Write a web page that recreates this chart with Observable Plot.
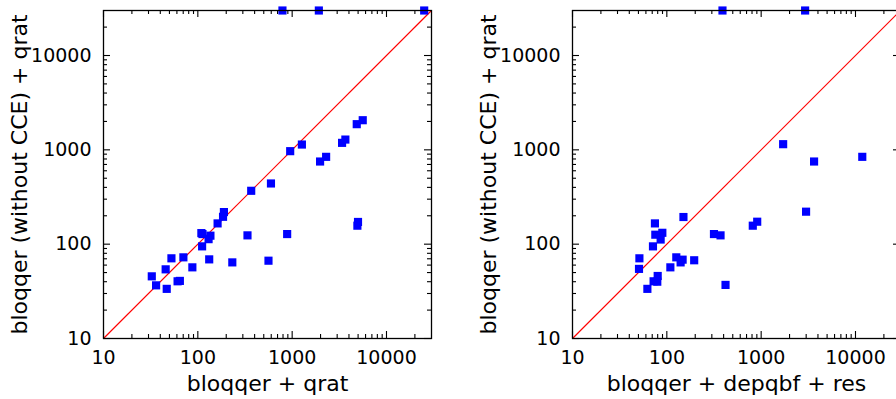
<!DOCTYPE html>
<html><head><meta charset="utf-8">
<script src="https://cdn.jsdelivr.net/npm/d3@7"></script>
<script src="https://cdn.jsdelivr.net/npm/@observablehq/plot@0.6"></script>
<style>
body{margin:0;overflow:hidden;background:#fff}
#wrap{position:relative;width:896px;height:399px;overflow:hidden;background:#fff}
.panel{position:absolute;top:0}
.panel svg{max-width:none}
</style></head><body>
<div id="wrap"><div class="panel" id="p1" style="left:0"></div><div class="panel" id="p2" style="left:469px"></div></div>
<script>
// Left panel: bloqqer + qrat (x) vs bloqqer (without CCE) + qrat (y)
const leftX = [789, 1918, 25100, 953, 1268, 1977, 2291, 3381, 3665, 4838, 5600, 368, 596,
  32.5, 36.1, 45.6, 46.8, 52.5, 61, 64.5, 70.3, 87.5, 109, 111, 130, 136, 132, 112, 162, 185, 189,
  232, 336, 561, 885, 4915, 4990];
const leftY = [30000, 30000, 30000, 968, 1138, 752, 843, 1186, 1285, 1871, 2061, 368, 440,
  45.6, 36.6, 54.1, 33.6, 70.8, 40.4, 40.8, 72.5, 56.8, 131, 94.8, 113, 123, 69, 128, 166, 195, 219,
  64.1, 124, 66.8, 128, 157, 172];
// Right panel: bloqqer + depqbf + res (x) vs bloqqer (without CCE) + qrat (y)
const rightX = [389, 2924, 1710, 3638, 11800, 2993, 815, 908, 316, 371, 419, 195, 150, 126, 147, 140,
  109, 74.8, 75.5, 89.6, 86, 71.3, 51.2, 50.7, 62.2, 72.4, 80, 79.2];
const rightY = [30000, 30000, 1148, 752, 843, 221, 157, 173, 128, 124, 37, 67.5, 194, 72.5, 68.5, 64.1,
  56.8, 166, 126, 132, 112, 94.8, 70.8, 54.7, 33.6, 40.4, 46, 40];

const majorTicks = [10, 100, 1000, 10000];
const minorTicks = [20, 30, 40, 50, 60, 70, 80, 90, 200, 300, 400, 500, 600, 700, 800, 900,
  2000, 3000, 4000, 5000, 6000, 7000, 8000, 9000, 20000];
const domain = [10, 30000];
const diagonal = [{x1: 10, y1: 10, x2: 30000, y2: 30000}];

const xLabels = ["bloqqer + qrat", "bloqqer + depqbf + res"];
const yLabel = "bloqqer (without CCE) + qrat";

const SIZE = 328; // frame side in px
function tickMarks(vals, len) {
  const c = {stroke: "#000", strokeWidth: 1.1};
  return [
    Plot.ruleX(vals, {x: d => d, insetTop: SIZE - len, ...c}),
    Plot.ruleX(vals, {x: d => d, insetBottom: SIZE - len, ...c}),
    Plot.ruleY(vals, {y: d => d, insetRight: SIZE - len, ...c}),
    Plot.ruleY(vals, {y: d => d, insetLeft: SIZE - len, ...c})
  ];
}

function panel(xs, ys, xlabel) {
  const data = xs.map((x, i) => ({x, y: ys[i]}));
  return Plot.plot({
    width: 469, height: 399,
    marginLeft: 103, marginRight: 38, marginTop: 10, marginBottom: 61,
    style: {fontFamily: "DejaVu Sans", fontSize: "19px", color: "#000", background: "transparent", overflow: "visible", maxWidth: "none"},
    x: {type: "log", domain},
    y: {type: "log", domain},
    marks: [
      Plot.link(diagonal, {x1: "x1", y1: "y1", x2: "x2", y2: "y2", stroke: "#ff0000", strokeWidth: 1.2}),
      ...tickMarks(minorTicks, 4),
      ...tickMarks(majorTicks, 7),
      Plot.dot(data, {x: "x", y: "y", symbol: "square", r: 4.6, fill: "#0000ff", stroke: null}),
      Plot.frame({stroke: "#000", strokeWidth: 1.3}),
      Plot.axisX(majorTicks, {anchor: "bottom", tickSize: 0, tickPadding: 12, tickFormat: d => String(d), fontSize: 19, label: null}),
      Plot.axisY(majorTicks, {anchor: "left", tickSize: 0, tickPadding: 12, tickFormat: d => String(d), fontSize: 19, label: null}),
      Plot.text([xlabel], {text: d => d, frameAnchor: "bottom", textAnchor: "middle", lineAnchor: "middle", dy: 45, fontSize: 22}),
      Plot.text([yLabel], {text: d => d, frameAnchor: "left", textAnchor: "middle", lineAnchor: "middle", dx: -84, rotate: -90, fontSize: 22})
    ]
  });
}
document.getElementById("p1").append(panel(leftX, leftY, xLabels[0]));
document.getElementById("p2").append(panel(rightX, rightY, xLabels[1]));
</script>
</body></html>
